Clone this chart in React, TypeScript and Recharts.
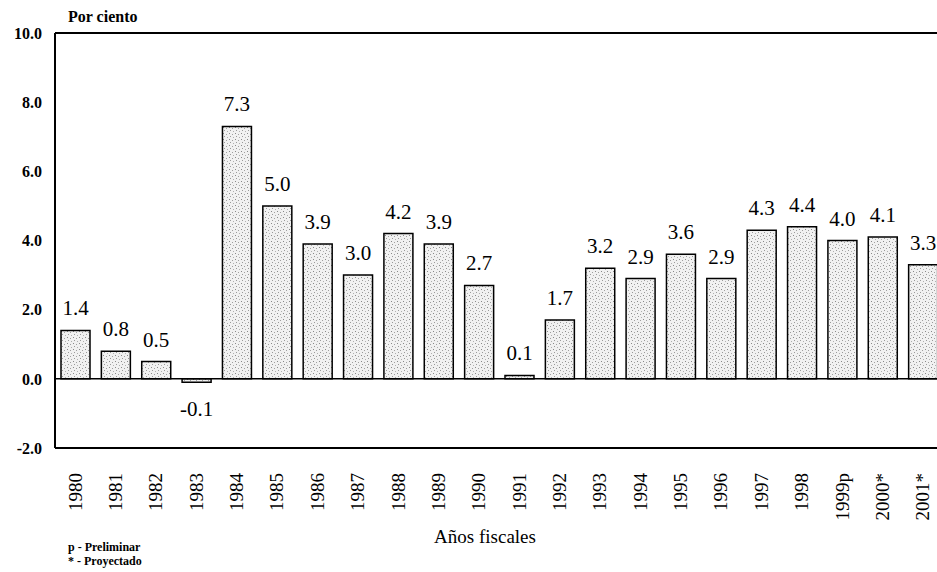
import React from "react"
import { BarChart, Bar, XAxis, YAxis, ReferenceLine, LabelList } from "recharts"

const YEARS = ["1980","1981","1982","1983","1984","1985","1986","1987","1988","1989","1990","1991","1992","1993","1994","1995","1996","1997","1998","1999p","2000*","2001*"]
const VALUES = [1.4, 0.8, 0.5, -0.1, 7.3, 5.0, 3.9, 3.0, 4.2, 3.9, 2.7, 0.1, 1.7, 3.2, 2.9, 3.6, 2.9, 4.3, 4.4, 4.0, 4.1, 3.3]
const Y_TICKS = [-2, 0, 2, 4, 6, 8, 10]

const data = YEARS.map((year, i) => ({ year, value: VALUES[i] }))

const SERIF = "'Liberation Serif', 'Times New Roman', serif"

const YearTick = (props: any) => {
  const { x, y, payload } = props
  return (
    <g transform={`translate(${x},${y})`}>
      <text
        transform="rotate(-90)"
        x={-17}
        y={0}
        dy="0.34em"
        textAnchor="end"
        fontFamily={SERIF}
        fontSize={19}
        fill="#000"
      >
        {payload.value}
      </text>
    </g>
  )
}

const ValueLabel = (props: any) => {
  const { x, y, width, height, value } = props
  const cx = Number(x) + Number(width) / 2
  const top = Math.min(Number(y), Number(y) + Number(height))
  const bottom = Math.max(Number(y), Number(y) + Number(height))
  const ty = value >= 0 ? top - 15 : bottom + 34
  return (
    <text x={cx} y={ty} textAnchor="middle" fontFamily={SERIF} fontSize={21} fill="#000">
      {Number(value).toFixed(1)}
    </text>
  )
}

export default function App() {
  return (
    <div style={{ position: "absolute", left: 0, top: 0, width: 937, height: 572, overflow: "hidden", background: "#fff" }}>
      <svg width={0} height={0} style={{ position: "absolute" }}>
        <defs>
          <pattern id="stipple" width={6} height={6} patternUnits="userSpaceOnUse">
            <rect width={6} height={6} fill="#f1f1f1" />
            <rect x={1} y={1} width={1} height={1} fill="#8a8a8a" />
            <rect x={4} y={2} width={1} height={1} fill="#a0a0a0" />
            <rect x={2} y={4} width={1} height={1} fill="#9a9a9a" />
            <rect x={5} y={5} width={1} height={1} fill="#b0b0b0" />
          </pattern>
        </defs>
      </svg>

      <div style={{ position: "absolute", left: 68, top: 8, fontFamily: SERIF, fontWeight: "bold", fontSize: 16 }}>
        Por ciento
      </div>

      <div style={{ position: "absolute", left: 0, top: 0 }}>
        <BarChart
          width={943}
          height={540}
          data={data}
          margin={{ top: 33, right: 0, bottom: 30, left: 0 }}
        >
          <YAxis
            domain={[-2, 10]}
            ticks={Y_TICKS}
            allowDataOverflow
            width={55}
            tickLine={false}
            tickSize={0}
            tickMargin={13}
            axisLine={{ stroke: "#000", strokeWidth: 2 }}
            tickFormatter={(v: number) => v.toFixed(1)}
            tick={{ fill: "#000", fontFamily: SERIF, fontWeight: "bold", fontSize: 16 }}
          />
          <XAxis
            dataKey="year"
            interval={0}
            height={62}
            tickLine={false}
            axisLine={{ stroke: "#000", strokeWidth: 2 }}
            tick={<YearTick />}
          />
          <ReferenceLine y={10} stroke="#000" strokeWidth={2} />
          <Bar
            dataKey="value"
            barSize={29}
            fill="url(#stipple)"
            stroke="#000"
            strokeWidth={1.5}
            isAnimationActive={false}
          >
            <LabelList dataKey="value" content={<ValueLabel />} />
          </Bar>
          <ReferenceLine y={0} stroke="#000" strokeWidth={1.5} />
        </BarChart>
      </div>

      <div style={{ position: "absolute", left: 0, width: 970, top: 526, textAlign: "center", fontFamily: SERIF, fontSize: 19 }}>
        Años fiscales
      </div>
      <div style={{ position: "absolute", left: 68, top: 540, fontFamily: SERIF, fontWeight: "bold", fontSize: 12, lineHeight: "14px" }}>
        p - Preliminar
        <br />* - Proyectado
      </div>
    </div>
  )
}
